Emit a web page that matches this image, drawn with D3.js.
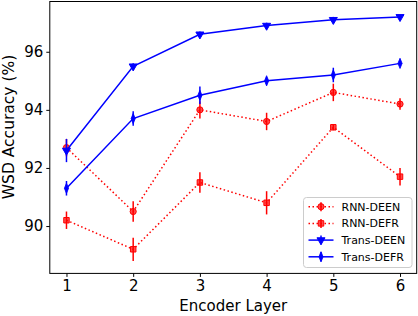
<!DOCTYPE html>
<html>
<head>
<meta charset="utf-8">
<script src="https://cdn.jsdelivr.net/npm/d3@7"></script>
<style>
  body { margin: 0; background: #fff; }
  text { font-family: "DejaVu Sans", sans-serif; }
</style>
</head>
<body>
<div id="graph-container"></div>
<script>
const width = 418;
const height = 316;

// Data
const layers = [1, 2, 3, 4, 5, 6];
const rnnDeen = [92.7, 90.5, 94.0, 93.6, 94.6, 94.2];
const rnnDeenErr = [0.3, 0.35, 0.3, 0.3, 0.3, 0.2];
const rnnDefr = [90.2, 89.2, 91.5, 90.8, 93.4, 91.7];
const rnnDefrErr = [0.3, 0.4, 0.35, 0.4, 0.1, 0.3];
const transDeen = [92.6, 95.5, 96.6, 96.9, 97.1, 97.2];
const transDeenErr = [0.4, 0.1, 0.1, 0.1, 0.1, 0.05];
const transDefr = [91.3, 93.7, 94.5, 95.0, 95.2, 95.6];
const transDefrErr = [0.25, 0.25, 0.3, 0.1, 0.25, 0.1];
const yTicks = [90, 92, 94, 96];

const series = [
    {name: "RNN-DEEN", values: rnnDeen, err: rnnDeenErr, color: "#ff0000", dash: "1.5,2.5", marker: "circle"},
    {name: "RNN-DEFR", values: rnnDefr, err: rnnDefrErr, color: "#ff0000", dash: "1.5,2.5", marker: "square"},
    {name: "Trans-DEEN", values: transDeen, err: transDeenErr, color: "#0000ff", dash: null, marker: "tri"},
    {name: "Trans-DEFR", values: transDefr, err: transDefrErr, color: "#0000ff", dash: null, marker: "diamond"}
];

const margin = {top: 1.5, right: 1.3, bottom: 42.6, left: 49.8};

const x = d3.scaleLinear()
    .domain([0.75, 6.25])
    .range([margin.left, width - margin.right]);

const y = d3.scaleLinear()
    .domain([88.37, 97.73])
    .range([height - margin.bottom, margin.top]);

const svg = d3.select('#graph-container')
    .append('svg')
    .attr("width", width)
    .attr("height", height);

// Axes
svg.append("g")
    .attr("transform", `translate(0,${height - margin.bottom})`)
    .call(d3.axisBottom(x).tickValues(layers).tickFormat(d3.format("d")).tickSize(3.5).tickPadding(3))
    .call(g => g.select(".domain").remove())
    .call(g => g.selectAll("text").attr("font-size", "15px").attr("font-family", "DejaVu Sans").attr("fill", "#000"));

svg.append("g")
    .attr("transform", `translate(${margin.left},0)`)
    .call(d3.axisLeft(y).tickValues(yTicks).tickSize(3.5).tickPadding(3))
    .call(g => g.select(".domain").remove())
    .call(g => g.selectAll("text").attr("font-size", "15px").attr("font-family", "DejaVu Sans").attr("fill", "#000"));

// Frame
svg.append("rect")
    .attr("x", margin.left)
    .attr("y", margin.top)
    .attr("width", width - margin.left - margin.right)
    .attr("height", height - margin.top - margin.bottom)
    .attr("fill", "none")
    .attr("stroke", "#000")
    .attr("stroke-width", 1);

// Axis labels
svg.append("text")
    .attr("x", (margin.left + width - margin.right) / 2)
    .attr("y", 311)
    .attr("text-anchor", "middle")
    .attr("font-size", "15px")
    .text("Encoder Layer");

svg.append("text")
    .attr("transform", "translate(14,127) rotate(-90)")
    .attr("text-anchor", "middle")
    .attr("font-size", "15.5px")
    .text("WSD Accuracy (%)");

function markerPath(type) {
    if (type === "circle") return d3.symbol(d3.symbolCircle, 30)();
    if (type === "square") return d3.symbol(d3.symbolSquare, 30)();
    if (type === "tri") return d3.symbol(d3.symbolTriangle, 28)();
    return d3.symbol(d3.symbolDiamond, 30)();
}

function markerTransform(type, px, py) {
    if (type === "tri") return `translate(${px},${py}) rotate(180)`;
    if (type === "diamond") return `translate(${px},${py}) scale(0.7,1)`;
    return `translate(${px},${py})`;
}

const line = d3.line()
    .x((d, i) => x(layers[i]))
    .y(d => y(d));

series.forEach(s => {
    const g = svg.append("g");

    g.append("path")
        .datum(s.values)
        .attr("fill", "none")
        .attr("stroke", s.color)
        .attr("stroke-width", 1.5)
        .attr("stroke-dasharray", s.dash)
        .attr("d", line);

    g.selectAll("line.err")
        .data(s.values)
        .join("line")
        .attr("x1", (d, i) => x(layers[i]))
        .attr("x2", (d, i) => x(layers[i]))
        .attr("y1", (d, i) => y(d - s.err[i]))
        .attr("y2", (d, i) => y(d + s.err[i]))
        .attr("stroke", s.color)
        .attr("stroke-width", 1.5);

    g.selectAll("path.mk")
        .data(s.values)
        .join("path")
        .attr("d", markerPath(s.marker))
        .attr("transform", (d, i) => markerTransform(s.marker, x(layers[i]), y(d)))
        .attr("fill", s.color)
        .attr("fill-opacity", s.dash ? 0.7 : 1)
        .attr("stroke", s.color)
        .attr("stroke-width", 1);
});

// Legend
const legend = svg.append("g");
legend.append("rect")
    .attr("x", 303.5)
    .attr("y", 197.5)
    .attr("width", 108.5)
    .attr("height", 70)
    .attr("rx", 3)
    .attr("fill", "#fff")
    .attr("fill-opacity", 0.8)
    .attr("stroke", "#cccccc")
    .attr("stroke-width", 1);

series.forEach((s, i) => {
    const ly = 206.7 + i * 16.7;
    legend.append("line")
        .attr("x1", 308.5)
        .attr("x2", 333.5)
        .attr("y1", ly)
        .attr("y2", ly)
        .attr("stroke", s.color)
        .attr("stroke-width", 1.5)
        .attr("stroke-dasharray", s.dash);
    legend.append("line")
        .attr("x1", 321)
        .attr("x2", 321)
        .attr("y1", ly - 4.5)
        .attr("y2", ly + 4.5)
        .attr("stroke", s.color)
        .attr("stroke-width", 1.5);
    legend.append("path")
        .attr("d", markerPath(s.marker))
        .attr("transform", markerTransform(s.marker, 321, ly))
        .attr("fill", s.color)
        .attr("fill-opacity", s.dash ? 0.7 : 1)
        .attr("stroke", s.color)
        .attr("stroke-width", 1);
    legend.append("text")
        .attr("x", 341.5)
        .attr("y", ly)
        .attr("dy", "0.35em")
        .attr("font-size", "11px")
        .text(s.name);
});
</script>
</body>
</html>
